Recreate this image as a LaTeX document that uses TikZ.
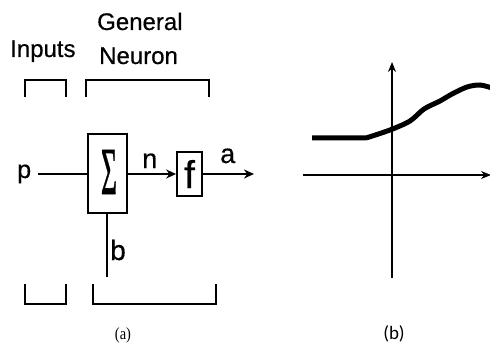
\documentclass[tikz,border=0pt]{standalone}
\usepackage{fontspec}
\usepackage{graphicx}
\setmainfont{Liberation Sans}[BoldFont={Liberation Sans},BoldFeatures={FakeBold=0.5}]
\newfontfamily\serfont{Liberation Serif}
\newfontfamily\sigfont{Liberation Serif}[BoldFont={Liberation Serif},BoldFeatures={FakeBold=1}]
\newfontfamily\calfont{Carlito}
\usetikzlibrary{arrows.meta}
\begin{document}
\begin{tikzpicture}[x=1pt,y=-1pt,
  lbl/.style={inner sep=0pt,anchor=base west,font=\bfseries\fontsize{24}{24}\selectfont},
  sym/.style={inner sep=0pt,anchor=base west,font=\bfseries\fontsize{27}{27}\selectfont},
  brk/.style={line width=2.2pt,line cap=rect},
  blk/.style={draw,line width=1.8pt,inner sep=0pt},
  wire/.style={line width=1.8pt},
  arr/.style={line width=1.8pt,-{Stealth[length=10pt,width=9pt]}},
  axis/.style={line width=1.4pt},
  caption/.style={inner sep=0pt,anchor=base}]
\useasboundingbox (0,0) rectangle (490,350);
% labels
\node[lbl] (inputs) at (10,57) {Inputs};
\node[lbl] (general) at (97,30) {General};
\node[lbl] (neuron) at (99,64) {Neuron};
% top brackets
\draw[brk] (25,96) -- (25,80) -- (66,80) -- (66,96);
\draw[brk] (86,96) -- (86,80) -- (209,80) -- (209,96);
% bottom brackets
\draw[brk] (25,285) -- (25,304) -- (66,304) -- (66,285);
\draw[brk] (93,285) -- (93,304) -- (216,304) -- (216,285);
% blocks
\node[blk,minimum width=39pt,minimum height=79pt] (sum) at (107.5,173.5) {};
\node[inner sep=0pt] (sig) at (109,172)
  {\resizebox{16pt}{44pt}{\sigfont\bfseries\fontsize{20}{20}\selectfont Σ}};
\node[blk,minimum width=25pt,minimum height=44pt] (f) at (189.5,174)
  {\resizebox{!}{28pt}{\bfseries\fontsize{24}{24}\selectfont f}};
\node[inner sep=0pt,anchor=base west,font=\bfseries\fontsize{25}{25}\selectfont] (p) at (17,178) {p};
\coordinate (pstart) at (38,174);
\coordinate (bend) at (107,277);
\coordinate (aend) at (254,174);
\draw[wire] (pstart) -- (sum.west |- pstart);
\draw[arr] (sum.east |- f.west) -- (f.west);
\draw[arr] (f.east) -- (aend);
\draw[wire] (sum.south -| bend) -- (bend);
\node[sym] (n) at (142,168) {n};
\node[sym] (a) at (220,163) {a};
\node[sym,font=\bfseries\fontsize{28}{28}\selectfont] (b) at (110,260) {b};
% captions
\node[caption,font=\serfont\fontsize{17}{17}\selectfont] (capa) at (123,339) {\scalebox{0.85}[1]{(a)}};
\node[caption,font=\calfont\fontsize{19}{19}\selectfont] (capb) at (394,339) {(b)};
% panel b
\coordinate (xs) at (303,175);
\coordinate (xe) at (491,175);
\coordinate (ys) at (392,278);
\coordinate (ye) at (392,62);
\draw[axis,-{Stealth[length=10pt,width=8pt]}] (xs) -- (xe);
\draw[axis,-{Stealth[length=10pt,width=8pt]}] (ys) -- (ye);
\draw[line width=5pt] (312,138) -- (366,138)
  plot[smooth,tension=0.5] coordinates {(366,138) (390,130) (410,121) (424,109) (440,101) (452,94) (467,87) (480,85) (492,88)};
\end{tikzpicture}
\end{document}
